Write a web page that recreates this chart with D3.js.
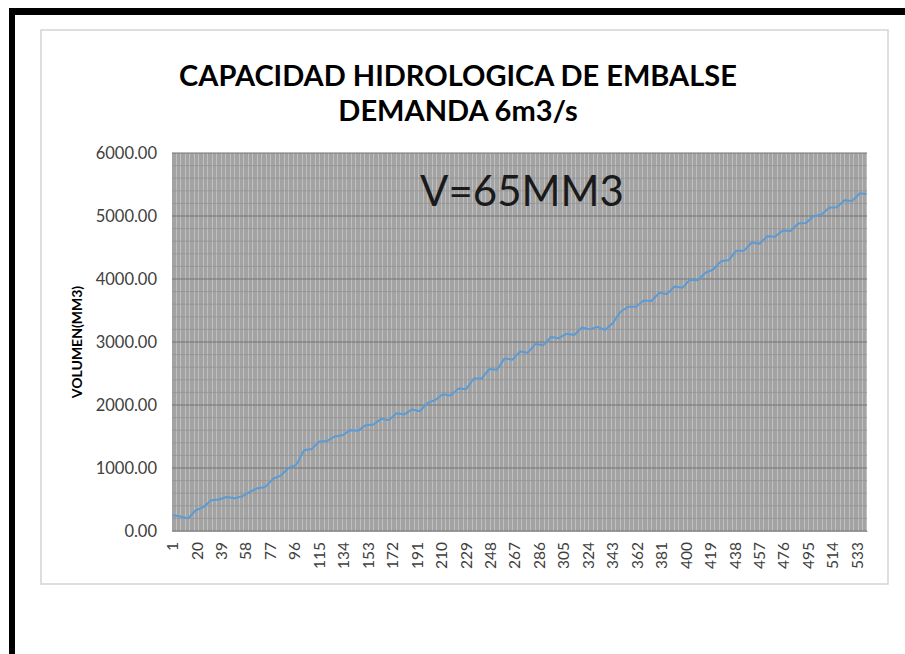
<!DOCTYPE html>
<html>
<head>
<meta charset="utf-8">
<script src="https://cdn.jsdelivr.net/npm/d3@7/dist/d3.min.js"></script>
<style>
  body { margin: 0; background: #fff; }
</style>
</head>
<body>
<script>
// datos: mes (categoria) y volumen acumulado
var totalMeses = 540;
var etiquetasX = [1, 20, 39, 58, 77, 96, 115, 134, 153, 172, 191, 210, 229, 248, 267, 286, 305, 324,
    343, 362, 381, 400, 419, 438, 457, 476, 495, 514, 533];
var ticksY = [0, 1000, 2000, 3000, 4000, 5000, 6000];

var mesPunto = [1, 7, 13, 19, 25, 31, 37, 43, 49, 55, 61, 67, 73, 79, 85, 91, 97, 103, 109, 115,
    121, 127, 133, 139, 145, 151, 157, 163, 169, 175, 181, 187, 193, 199, 205, 211, 217, 223, 229,
    235, 241, 247, 253, 259, 265, 271, 277, 283, 289, 295, 301, 307, 313, 319, 325, 331, 337, 343,
    349, 355, 361, 367, 373, 379, 385, 391, 397, 403, 409, 415, 421, 427, 433, 439, 445, 451, 457,
    463, 469, 475, 481, 487, 493, 499, 505, 511, 517, 523, 529, 535, 540];
var volumen = [250, 230, 200, 330, 380, 490, 500, 540, 520, 550, 620, 680, 700, 830, 880, 1000,
    1050, 1280, 1300, 1420, 1430, 1500, 1520, 1600, 1590, 1680, 1690, 1780, 1760, 1870, 1850, 1930,
    1900, 2030, 2080, 2170, 2150, 2260, 2250, 2420, 2420, 2570, 2560, 2740, 2720, 2850, 2830, 2970,
    2950, 3080, 3060, 3130, 3110, 3230, 3200, 3240, 3190, 3300, 3480, 3560, 3560, 3660, 3650, 3780,
    3760, 3880, 3860, 3990, 3980, 4100, 4150, 4280, 4300, 4450, 4450, 4580, 4560, 4680, 4670, 4770,
    4760, 4880, 4890, 5000, 5020, 5130, 5140, 5250, 5240, 5360, 5350];

var W = 905, H = 654;
var plot = { left: 172, right: 867, top: 153, bottom: 531 };

var svg = d3.select("body").append("svg")
    .attr("width", W)
    .attr("height", H);

svg.append("rect").attr("width", W).attr("height", H).attr("fill", "#fff");

// marco negro (arriba e izquierda)
svg.append("rect").attr("x", 9).attr("y", 8).attr("width", W - 9).attr("height", 7).attr("fill", "#000");
svg.append("rect").attr("x", 9).attr("y", 8).attr("width", 6).attr("height", H - 8).attr("fill", "#000");

// caja del grafico
svg.append("rect")
    .attr("x", 41).attr("y", 30)
    .attr("width", 888 - 41).attr("height", 584 - 30)
    .attr("fill", "#fff")
    .attr("stroke", "#d4d4d4")
    .attr("stroke-width", 1.5);

var categorias = d3.range(1, totalMeses + 1);

var x = d3.scaleBand()
    .domain(categorias)
    .range([plot.left, plot.right])
    .paddingInner(0)
    .paddingOuter(0);

var y = d3.scaleLinear()
    .domain([0, 6000])
    .range([plot.bottom, plot.top]);

// fondo del area de trazado
svg.append("rect")
    .attr("x", plot.left).attr("y", plot.top)
    .attr("width", plot.right - plot.left).attr("height", plot.bottom - plot.top)
    .attr("fill", "#c0c0c0");

// lineas de division verticales (una por categoria)
svg.append("g")
    .attr("shape-rendering", "crispEdges")
    .selectAll("line")
    .data(categorias)
    .enter().append("line")
    .attr("x1", function (d) { return x(d); })
    .attr("x2", function (d) { return x(d); })
    .attr("y1", plot.top)
    .attr("y2", plot.bottom)
    .attr("stroke", "#8a8a8a")
    .attr("stroke-opacity", 0.55)
    .attr("stroke-width", 1);

// lineas horizontales secundarias y principales
svg.append("g")
    .selectAll("line")
    .data(y.ticks(30))
    .enter().append("line")
    .attr("x1", plot.left).attr("x2", plot.right)
    .attr("y1", function (d) { return y(d); })
    .attr("y2", function (d) { return y(d); })
    .attr("stroke", function (d) { return d % 1000 === 0 ? "#747474" : "#909090"; })
    .attr("stroke-width", function (d) { return d % 1000 === 0 ? 1.1 : 0.7; });

// eje y
var ejeY = svg.append("g")
    .attr("transform", "translate(" + plot.left + ",0)")
    .call(d3.axisLeft(y).tickValues(ticksY).tickSize(0).tickPadding(15)
        .tickFormat(d3.format(".2f")));
ejeY.select(".domain").remove();
ejeY.selectAll("text")
    .attr("font-family", "Lato, sans-serif")
    .attr("font-size", 16.5)
    .attr("fill", "#404040");

// eje x
var ejeX = svg.append("g")
    .attr("transform", "translate(0," + plot.bottom + ")")
    .call(d3.axisBottom(x).tickValues(etiquetasX).tickSize(0));
ejeX.select(".domain").attr("stroke", "#9a9a9a");
ejeX.selectAll("text")
    .attr("font-family", "Lato, sans-serif")
    .attr("font-size", 15.5)
    .attr("fill", "#404040")
    .attr("text-anchor", "end")
    .attr("dy", "0.35em")
    .attr("transform", "translate(0,11) rotate(-90)")
    .attr("x", 0)
    .attr("y", 0);

// serie
var puntos = mesPunto.map(function (m, i) { return { mes: m, v: volumen[i] }; });
var linea = d3.line()
    .x(function (d) { return x(d.mes) + x.bandwidth() / 2; })
    .y(function (d) { return y(d.v); });

svg.append("path")
    .datum(puntos)
    .attr("d", linea)
    .attr("fill", "none")
    .attr("stroke", "#5b9bd5")
    .attr("stroke-width", 2)
    .attr("stroke-linejoin", "round");

// titulos
svg.append("text")
    .attr("x", 458).attr("y", 86)
    .attr("text-anchor", "middle")
    .attr("font-family", "Lato, sans-serif")
    .attr("font-weight", "bold")
    .attr("font-size", 29)
    .attr("fill", "#000")
    .text("CAPACIDAD HIDROLOGICA DE EMBALSE");

svg.append("text")
    .attr("x", 458).attr("y", 121)
    .attr("text-anchor", "middle")
    .attr("font-family", "Lato, sans-serif")
    .attr("font-weight", "bold")
    .attr("font-size", 29)
    .attr("fill", "#000")
    .text("DEMANDA 6m3/s");

svg.append("text")
    .attr("transform", "translate(82," + ((plot.top + plot.bottom) / 2) + ") rotate(-90)")
    .attr("text-anchor", "middle")
    .attr("font-family", "Lato, sans-serif")
    .attr("font-weight", "bold")
    .attr("font-size", 14)
    .attr("fill", "#000")
    .text("VOLUMEN(MM3)");

svg.append("text")
    .attr("x", 522).attr("y", 206)
    .attr("text-anchor", "middle")
    .attr("font-family", "Lato, sans-serif")
    .attr("font-size", 42)
    .attr("fill", "#1a1a1a")
    .text("V=65MM3");
</script>
</body>
</html>
